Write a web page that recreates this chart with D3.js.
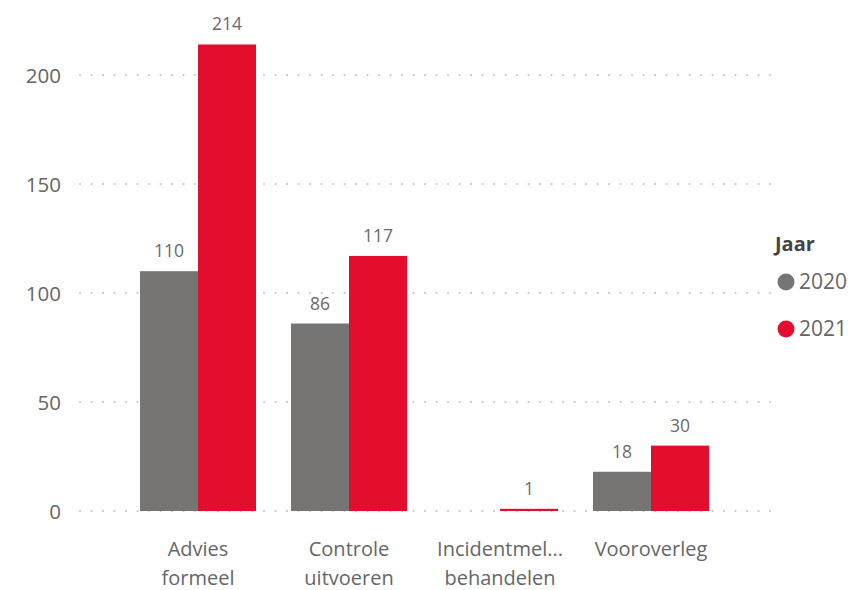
<!DOCTYPE html>
<html><head><meta charset="utf-8">
<script src="https://cdn.jsdelivr.net/npm/d3@7"></script>
<style>body{margin:0;background:#fff;}svg{display:block;}</style>
</head><body>
<svg id="c" width="859" height="590"></svg>
<script>
const categories = [["Advies","formeel"],["Controle","uitvoeren"],["Incidentmel...","behandelen"],["Vooroverleg"]];
const seriesNames = ["2020","2021"];
const values2020 = [110, 86, null, 18];
const values2021 = [214, 117, 1, 30];
const yTicks = [0, 50, 100, 150, 200];
const legendTitle = "Jaar";
const colors = ["#777574", "#E30E2E"];

const font = "'Open Sans', 'Noto Sans', sans-serif";
const svg = d3.select("#c");
const y = d3.scaleLinear().domain([0, 200]).range([511, 75]);
const x = d3.scaleBand().domain(categories.map((c,i)=>i)).range([122.5, 726.5]).paddingInner(35/151).paddingOuter(35/302);
const xs = d3.scaleBand().domain(seriesNames).range([0, x.bandwidth()]);

// gridlines (dotted)
const grid = svg.append("g");
yTicks.forEach(t => {
  grid.append("line").attr("x1", 80).attr("x2", 770).attr("y1", y(t)).attr("y2", y(t))
    .attr("stroke", "#c4c4c4").attr("stroke-width", 2).attr("stroke-linecap","round")
    .attr("stroke-dasharray", "0.1 11.4");
});
// y axis
const yAxis = d3.axisLeft(y).tickValues(yTicks).tickSize(0).tickPadding(0);
const ya = svg.append("g").attr("transform", "translate(61,0)").call(yAxis);
ya.select(".domain").remove();
ya.selectAll("text").attr("font-family", font).attr("font-size", 20.5).attr("fill", "#666666").attr("dy","0.35em");

// bars
const series = [values2020, values2021];
series.forEach((vals, si) => {
  const g = svg.append("g");
  vals.forEach((v, ci) => {
    if (v == null) return;
    const bx = x(ci) + xs(seriesNames[si]);
    const h = Math.max(y(0) - y(v), 2);
    g.append("rect").attr("x", bx).attr("y", y(0) - h).attr("width", xs.bandwidth()).attr("height", h).attr("fill", colors[si]);
    g.append("text").attr("x", bx + xs.bandwidth()/2).attr("y", y(0) - h - 14)
      .attr("text-anchor","middle").attr("font-family", font).attr("font-size", 17.5).attr("fill", "#6a6a6a").text(v);
  });
});

// x axis labels
const xa = svg.append("g");
categories.forEach((lines, ci) => {
  const t = xa.append("text").attr("x", x(ci) + x.bandwidth()/2).attr("y", 556)
    .attr("text-anchor","middle").attr("font-family", font).attr("font-size", 20).attr("fill", "#666666");
  lines.forEach((l, li) => t.append("tspan").attr("x", x(ci) + x.bandwidth()/2).attr("dy", li ? 29 : 0).text(l));
});

// legend
const lg = svg.append("g");
lg.append("text").attr("x", 775).attr("y", 251).attr("font-family", font).attr("font-size", 20).attr("font-weight", "bold").attr("fill", "#444444").text(legendTitle);
seriesNames.forEach((s, i) => {
  const cy = 282 + i*47;
  lg.append("circle").attr("cx", 786).attr("cy", cy).attr("r", 8.5).attr("fill", colors[i]);
  lg.append("text").attr("x", 799).attr("y", cy).attr("dy","0.35em").attr("font-family", font).attr("font-size", 21).attr("fill", "#666666").text(s);
});
</script>
</body></html>
